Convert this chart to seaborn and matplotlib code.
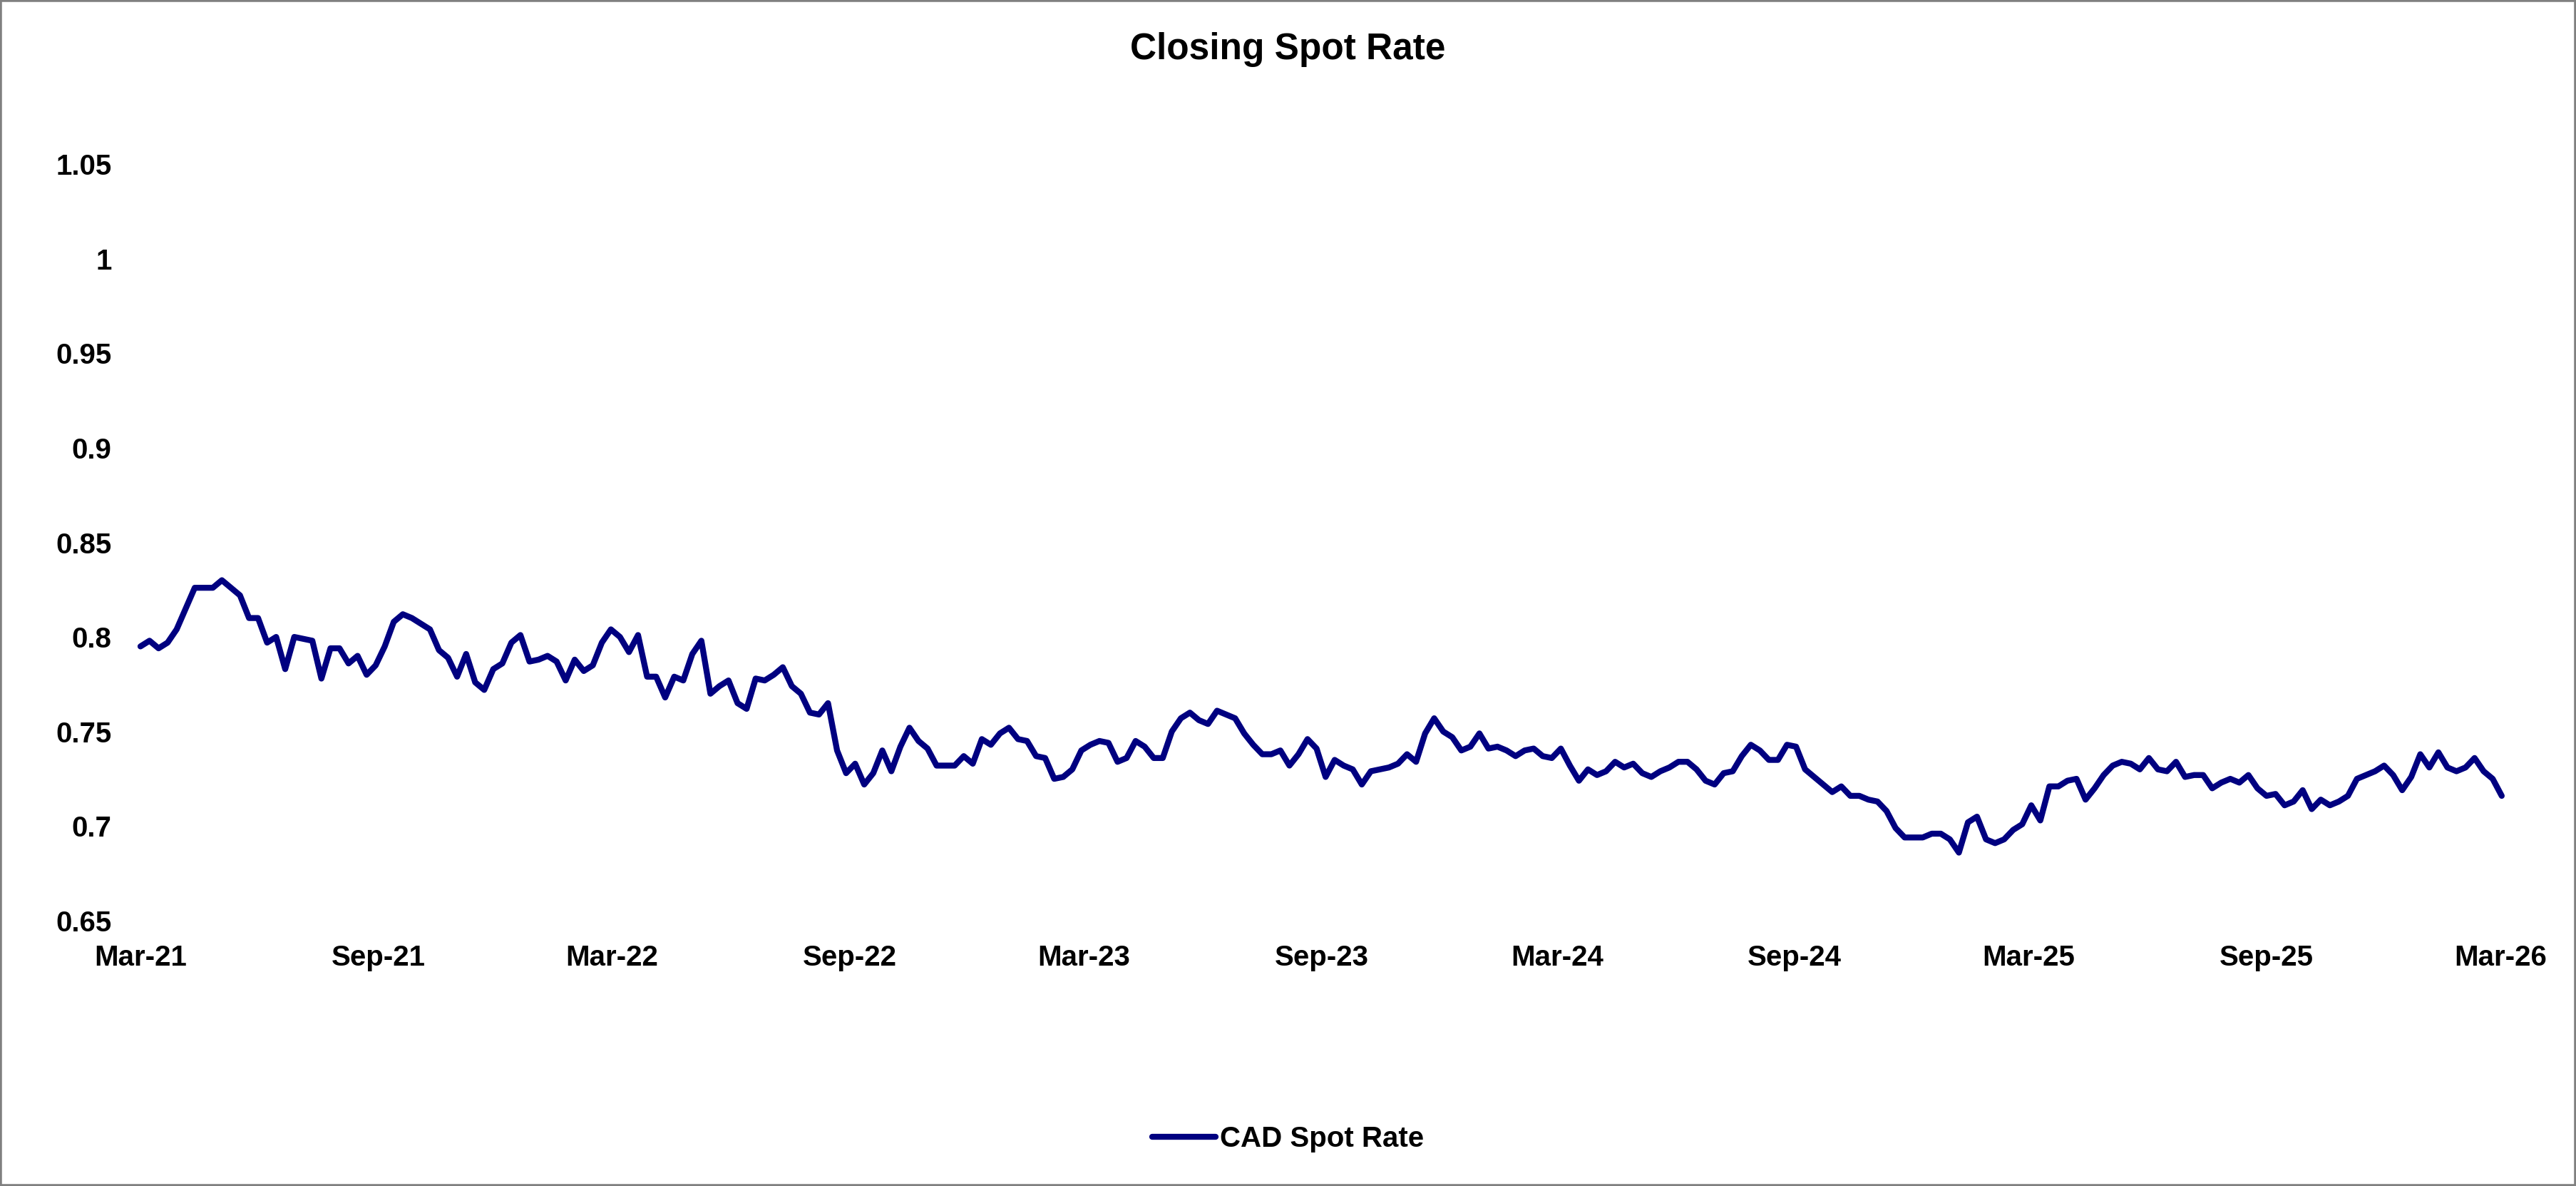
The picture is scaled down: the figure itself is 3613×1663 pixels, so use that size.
import numpy as np
import pandas as pd
import matplotlib
matplotlib.use('Agg')
import matplotlib.pyplot as plt
import matplotlib.dates as mdates
import seaborn as sns
from matplotlib.ticker import FuncFormatter
from matplotlib.lines import Line2D
from matplotlib.patches import Rectangle

# weekly closing CAD spot rate (Mar-21 .. Mar-26)
start_date = '2021-03-01'
spot_2021 = [0.795, 0.798, 0.794, 0.797, 0.804, 0.815, 0.826, 0.826, 0.826, 0.830,
             0.826, 0.822, 0.810, 0.810, 0.797, 0.800, 0.783, 0.800, 0.799, 0.798,
             0.778, 0.794, 0.794, 0.786, 0.790, 0.780, 0.785, 0.795, 0.808, 0.812,
             0.810, 0.807, 0.804, 0.793, 0.789, 0.779, 0.791, 0.776, 0.772, 0.783,
             0.786, 0.797, 0.801, 0.787, 0.788, 0.790, 0.787, 0.777, 0.788]
spot_2022 = [0.782, 0.785, 0.797, 0.804, 0.800, 0.792, 0.801, 0.779, 0.779, 0.768,
             0.779, 0.777, 0.791, 0.798, 0.770, 0.774, 0.777, 0.765, 0.762, 0.778,
             0.777, 0.780, 0.784, 0.774, 0.770, 0.760, 0.759, 0.765, 0.740, 0.728,
             0.733, 0.722, 0.728, 0.740, 0.729, 0.742, 0.752, 0.745, 0.741, 0.732,
             0.732, 0.732, 0.737]
spot_2023 = [0.733, 0.746, 0.743, 0.749, 0.752, 0.746, 0.745, 0.737, 0.736, 0.725,
             0.726, 0.730, 0.740, 0.743, 0.745, 0.744, 0.734, 0.736, 0.745, 0.742,
             0.736, 0.736, 0.750, 0.757, 0.760, 0.756, 0.754, 0.761, 0.759, 0.757,
             0.749, 0.743, 0.738, 0.738, 0.740, 0.732, 0.738, 0.746, 0.741, 0.726,
             0.735, 0.732, 0.730, 0.722]
spot_2024 = [0.729, 0.730, 0.731, 0.733, 0.738, 0.734, 0.749, 0.757, 0.750, 0.747,
             0.740, 0.742, 0.749, 0.741, 0.742, 0.740, 0.737, 0.740, 0.741, 0.737,
             0.736, 0.741, 0.732, 0.724, 0.730, 0.727, 0.729, 0.734, 0.731, 0.733,
             0.728, 0.726, 0.729, 0.731, 0.734, 0.734, 0.730, 0.724, 0.722, 0.728,
             0.729, 0.737, 0.743, 0.740, 0.735, 0.735, 0.743, 0.742, 0.730, 0.726,
             0.722, 0.718, 0.721, 0.716, 0.716, 0.714, 0.713, 0.708, 0.699, 0.694,
             0.694, 0.694]
spot_2025 = [0.696, 0.696, 0.693, 0.686, 0.702, 0.705, 0.693, 0.691, 0.693, 0.698,
             0.701, 0.711, 0.703, 0.721, 0.721, 0.724, 0.725, 0.714, 0.720, 0.727,
             0.732, 0.734, 0.733, 0.730, 0.736, 0.730, 0.729, 0.734, 0.726, 0.727,
             0.727, 0.720, 0.723, 0.725, 0.723, 0.727, 0.720, 0.716, 0.717, 0.711,
             0.713, 0.719, 0.709, 0.714, 0.711, 0.713, 0.716, 0.725, 0.727, 0.729,
             0.732, 0.727, 0.719, 0.726, 0.738, 0.731, 0.739, 0.731, 0.729, 0.731,
             0.736, 0.729, 0.725, 0.716]

spot_values = spot_2021 + spot_2022 + spot_2023 + spot_2024 + spot_2025
spot_dates = pd.date_range(start_date, periods=len(spot_values), freq='7D')

y_ticks = [0.65, 0.7, 0.75, 0.8, 0.85, 0.9, 0.95, 1.0, 1.05]
x_ticks = pd.date_range('2021-03-01', '2026-03-01', freq='6MS')

df = pd.DataFrame({'Date': spot_dates, 'CAD Spot Rate': spot_values})

sns.set_theme(style='white')
plt.rcParams['font.family'] = ['Liberation Sans', 'DejaVu Sans']
plt.rcParams['font.weight'] = 'bold'
plt.rcParams['text.color'] = 'black'

W, H = 3613, 1663
fig = plt.figure(figsize=(W / 100, H / 100), dpi=100)
fig.patch.set_facecolor('white')
ax = fig.add_axes([197 / W, (H - 1291) / H, (3507 - 197) / W, (1291 - 230) / H])

navy = '#000080'
sns.lineplot(data=df, x='Date', y='CAD Spot Rate', ax=ax, color=navy,
             linewidth=6.0, legend=False)
for ln in ax.lines:
    ln.set_solid_joinstyle('round')
    ln.set_solid_capstyle('round')
    ln.set_clip_on(False)

ax.set_xlim(pd.Timestamp('2021-03-01'), pd.Timestamp('2026-03-01'))
ax.set_ylim(0.65, 1.05)
ax.set_yticks(y_ticks)
ax.yaxis.set_major_formatter(FuncFormatter(lambda v, p: f'{v:g}'))
ax.set_xticks(x_ticks)
ax.xaxis.set_major_formatter(mdates.DateFormatter('%b-%y'))
ax.tick_params(axis='both', length=0, labelsize=29, colors='black')
ax.tick_params(axis='y', pad=29)
ax.tick_params(axis='x', pad=24)
for s in ax.spines.values():
    s.set_visible(False)
ax.grid(False)
ax.set_xlabel('')
ax.set_ylabel('')

fig.text(0.5, 1 - 69 / H, 'Closing Spot Rate', ha='center', va='center',
         fontsize=37, fontweight='bold', color='black')

handle = Line2D([0], [0], color=navy, linewidth=6.0, solid_capstyle='round')
fig.legend(handles=[handle], labels=['CAD Spot Rate'], loc='center',
           bbox_to_anchor=(0.5, 1 - 1597 / H), frameon=False,
           prop={'size': 29, 'weight': 'bold'}, handlelength=2.2,
           handletextpad=0.15, labelcolor='black')

fig.patches.append(Rectangle((0, 0), 1, 1, transform=fig.transFigure, fill=False,
                             edgecolor='#808080', linewidth=4))

fig.savefig('out.png', dpi=100)
plt.close(fig)
